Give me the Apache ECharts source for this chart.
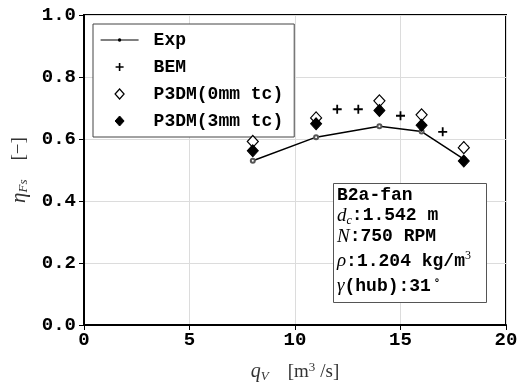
<!DOCTYPE html>
<html><head><meta charset="utf-8">
<script src="https://cdn.jsdelivr.net/npm/echarts@6/dist/echarts.min.js"></script>
<style>html,body{margin:0;padding:0;background:#fff}#chart{width:521px;height:388px}</style>
</head><body><div id="chart"></div>
<script>
// Fan static efficiency vs. volume flow rate, B2a-fan
const flowRates = [8, 11, 14, 16, 18];
const expEff = [0.530, 0.606, 0.641, 0.624, 0.535];
const bemFlow = [12, 13, 15, 17, 18];
const bemEff = [0.696, 0.696, 0.675, 0.623, 0.577];
const p3dm0Eff = [0.592, 0.668, 0.723, 0.678, 0.572];
const p3dm3Eff = [0.562, 0.649, 0.692, 0.644, 0.529];
const seriesNames = ['Exp', 'BEM', 'P3DM(0mm tc)', 'P3DM(3mm tc)'];
const xTickStep = 5;
const yTickStep = 0.2;

const pairs = (xs, ys) => xs.map((x, i) => [x, ys[i]]);
const MONO = '"Liberation Mono", "DejaVu Sans Mono", monospace';
const SERIF = '"Liberation Serif", "DejaVu Serif", serif';
const PLUS = 'path://M4,0H6V4H10V6H6V10H4V6H0V4H4Z';
// legend glyphs drawn inside a 38x11 box (zero-length end segments pin the box size)
const BOX = 'M0,5.5L0,5.5M38,5.5L38,5.5';
const LEG_LINE_DOT = 'path://M0,4.9H38V6.1H0Z M17.2,5.5L17.7,4.2L19,3.7L20.3,4.2L20.8,5.5L20.3,6.8L19,7.3L17.7,6.8Z';
const LEG_PLUS = 'path://' + BOX + 'M18.2,1.5H19.8V4.7H23V6.3H19.8V9.5H18.2V6.3H15V4.7H18.2Z';
const LEG_DIAMOND = 'path://' + BOX + 'M14.5,5.5L19,0.5L23.5,5.5L19,10.5Z';

const chart = echarts.init(document.getElementById('chart'));

const infoLines = [
  { y: 186, text: '{b|B2a-fan}' },
  { y: 206, text: '{m|d}{ms|c}{b|:1.542 m}' },
  { y: 227, text: '{m|N}{b|:750 RPM}' },
  { y: 250, text: '{m|ρ}{b|:1.204 kg/m}{sup|3}' },
  { y: 275, text: '{m|γ}{b|(hub):31}{sup| ∘}' }
];
const infoRich = {
  b: { fontFamily: MONO, fontWeight: 'bold', fontSize: 18, color: '#000', lineHeight: 22 },
  m: { fontFamily: SERIF, fontStyle: 'italic', fontSize: 19, color: '#333', lineHeight: 22 },
  ms: { fontFamily: SERIF, fontStyle: 'italic', fontSize: 12, color: '#333', lineHeight: 14, verticalAlign: 'bottom' },
  sup: { fontFamily: SERIF, fontSize: 12, color: '#333', lineHeight: 14, verticalAlign: 'top' }
};

chart.setOption({
  animation: false,
  backgroundColor: '#fff',
  grid: { left: 84, right: 15, top: 15, bottom: 60, show: true, borderColor: '#000', borderWidth: 2, backgroundColor: 'transparent' },
  xAxis: {
    type: 'value', min: 0, max: 20, interval: xTickStep,
    name: '{i|q}{s|V}{n|    [m}{sup|3}{n|/s]}',
    nameLocation: 'middle', nameGap: 36,
    nameTextStyle: {
      rich: {
        i: { fontFamily: SERIF, fontStyle: 'italic', fontSize: 20, color: '#333', lineHeight: 22 },
        s: { fontFamily: SERIF, fontStyle: 'italic', fontSize: 13, color: '#333', lineHeight: 14, verticalAlign: 'bottom' },
        n: { fontFamily: SERIF, fontSize: 19, color: '#333', lineHeight: 22, letterSpacing: 6 },
        sup: { fontFamily: SERIF, fontSize: 13, color: '#333', lineHeight: 14, verticalAlign: 'top', padding: [0, 5, 0, 0] }
      }
    },
    axisLine: { show: true, onZero: false, lineStyle: { color: '#000', width: 2 } },
    axisTick: { show: true, inside: false, length: 5, lineStyle: { color: '#000', width: 1 } },
    axisLabel: { margin: 6, fontFamily: MONO, fontWeight: 'bold', fontSize: 19, color: '#000' },
    splitLine: { show: true, lineStyle: { color: '#dcdcdc', width: 1 } }
  },
  yAxis: {
    type: 'value', min: 0, max: 1, interval: yTickStep,
    name: '{i|η}{s|Fs}{n|    [−]}',
    nameLocation: 'middle', nameRotate: 90, nameGap: 54,
    nameTextStyle: {
      rich: {
        i: { fontFamily: SERIF, fontStyle: 'italic', fontSize: 21, color: '#333', lineHeight: 22 },
        s: { fontFamily: SERIF, fontStyle: 'italic', fontSize: 13, color: '#333', lineHeight: 14, verticalAlign: 'bottom' },
        n: { fontFamily: SERIF, fontSize: 19, color: '#333', lineHeight: 22, letterSpacing: 3 }
      }
    },
    axisLine: { show: true, onZero: false, lineStyle: { color: '#000', width: 2 } },
    axisTick: { show: true, inside: false, length: 5, lineStyle: { color: '#000', width: 1 } },
    axisLabel: { margin: 8, fontFamily: MONO, fontWeight: 'bold', fontSize: 19, color: '#000',
      formatter: v => v.toFixed(1) },
    splitLine: { show: true, lineStyle: { color: '#dcdcdc', width: 1 } }
  },
  legend: {
    orient: 'vertical', left: 93, top: 24,
    data: [
      { name: seriesNames[0], icon: LEG_LINE_DOT, itemStyle: { color: '#000', borderWidth: 0 } },
      { name: seriesNames[1], icon: LEG_PLUS, itemStyle: { color: '#000', borderWidth: 0 } },
      { name: seriesNames[2], icon: LEG_DIAMOND, itemStyle: { color: '#fff', borderColor: '#000', borderWidth: 1.2 } },
      { name: seriesNames[3], icon: LEG_DIAMOND, itemStyle: { color: '#000', borderColor: '#000', borderWidth: 1 } }
    ],
    itemWidth: 38, itemHeight: 11, itemGap: 9,
    padding: [7, 11, 7, 7],
    borderColor: '#444', borderWidth: 1, backgroundColor: '#fff',
    textStyle: { fontFamily: MONO, fontWeight: 'bold', fontSize: 18, color: '#000', padding: [0, 0, 0, 10] }
  },
  series: [
    {
      name: seriesNames[0], type: 'line', data: pairs(flowRates, expEff),
      symbol: 'emptyCircle', symbolSize: 4, showSymbol: true,
      lineStyle: { color: '#000', width: 1.5 },
      itemStyle: { color: '#555', borderColor: '#555', borderWidth: 1 }, z: 2
    },
    {
      name: seriesNames[1], type: 'scatter', data: pairs(bemFlow, bemEff),
      symbol: PLUS, symbolSize: 9, itemStyle: { color: '#000', opacity: 1 }, z: 3
    },
    {
      name: seriesNames[2], type: 'scatter', data: pairs(flowRates, p3dm0Eff),
      symbol: 'diamond', symbolSize: [11, 12],
      itemStyle: { color: '#fff', borderColor: '#000', borderWidth: 1.2, opacity: 1 }, z: 4
    },
    {
      name: seriesNames[3], type: 'scatter', data: pairs(flowRates, p3dm3Eff),
      symbol: 'diamond', symbolSize: [11, 12],
      itemStyle: { color: '#000', borderColor: '#000', borderWidth: 1, opacity: 1 }, z: 5
    }
  ],
  graphic: [
    {
      type: 'rect', left: 333, top: 183, z: 100,
      shape: { width: 153, height: 119 },
      style: { fill: '#fff', stroke: '#555', lineWidth: 1 }
    }
  ].concat(infoLines.map(l => ({
    type: 'text', left: 337, top: l.y, z: 101,
    style: { text: l.text, rich: infoRich }
  })))
});
</script></body></html>
